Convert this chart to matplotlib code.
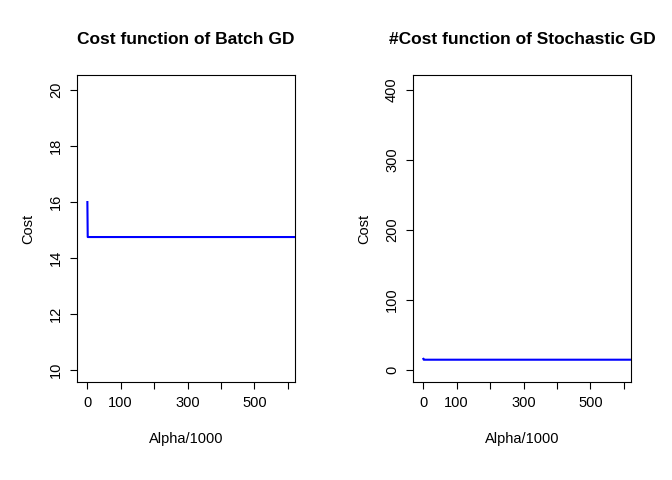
import matplotlib
matplotlib.use("Agg")
import matplotlib.pyplot as plt

plt.rcParams["font.family"] = ["Liberation Sans", "DejaVu Sans"]

# iterations (alpha/1000) and costs
alpha_batch = [1, 2, 650]
cost_batch = [16.0, 14.75, 14.75]
alpha_sgd = [1, 2, 650]
cost_sgd = [16.0, 14.8, 14.8]

x_ticks = [0, 100, 200, 300, 400, 500, 600]
x_labels = ["0", "100", "", "300", "", "500", ""]

fig = plt.figure(figsize=(6.72, 4.8), dpi=100)
W, H = 672, 480


def panel(left, x, y, ylim, yticks, title):
    ax = fig.add_axes([left / W, 98 / H, 218 / W, 307 / H])
    ax.plot(x, y, color="blue", linewidth=1.5)
    ax.set_xlim(-30, 621)
    ax.set_ylim(*ylim)
    ax.set_xticks(x_ticks)
    ax.set_xticklabels(x_labels)
    ax.set_yticks(yticks)
    ax.set_yticklabels([str(v) for v in yticks], va="center")
    ax.tick_params(labelsize=10.5, length=5, pad=5)
    ax.tick_params(axis="y", labelrotation=90)
    ax.set_xlabel("Alpha/1000", fontsize=10.5, labelpad=16)
    ax.set_ylabel("Cost", fontsize=10.5, labelpad=10)
    ax.set_title(title, fontsize=12.5, fontweight="bold", pad=22)
    return ax


panel(77, alpha_batch, cost_batch, (9.57, 20.54), [10, 12, 14, 16, 18, 20],
      "Cost function of Batch GD")
panel(413, alpha_sgd, cost_sgd, (-17, 421), [0, 100, 200, 300, 400],
      "#Cost function of Stochastic GD")

fig.savefig("out.png", dpi=100)
